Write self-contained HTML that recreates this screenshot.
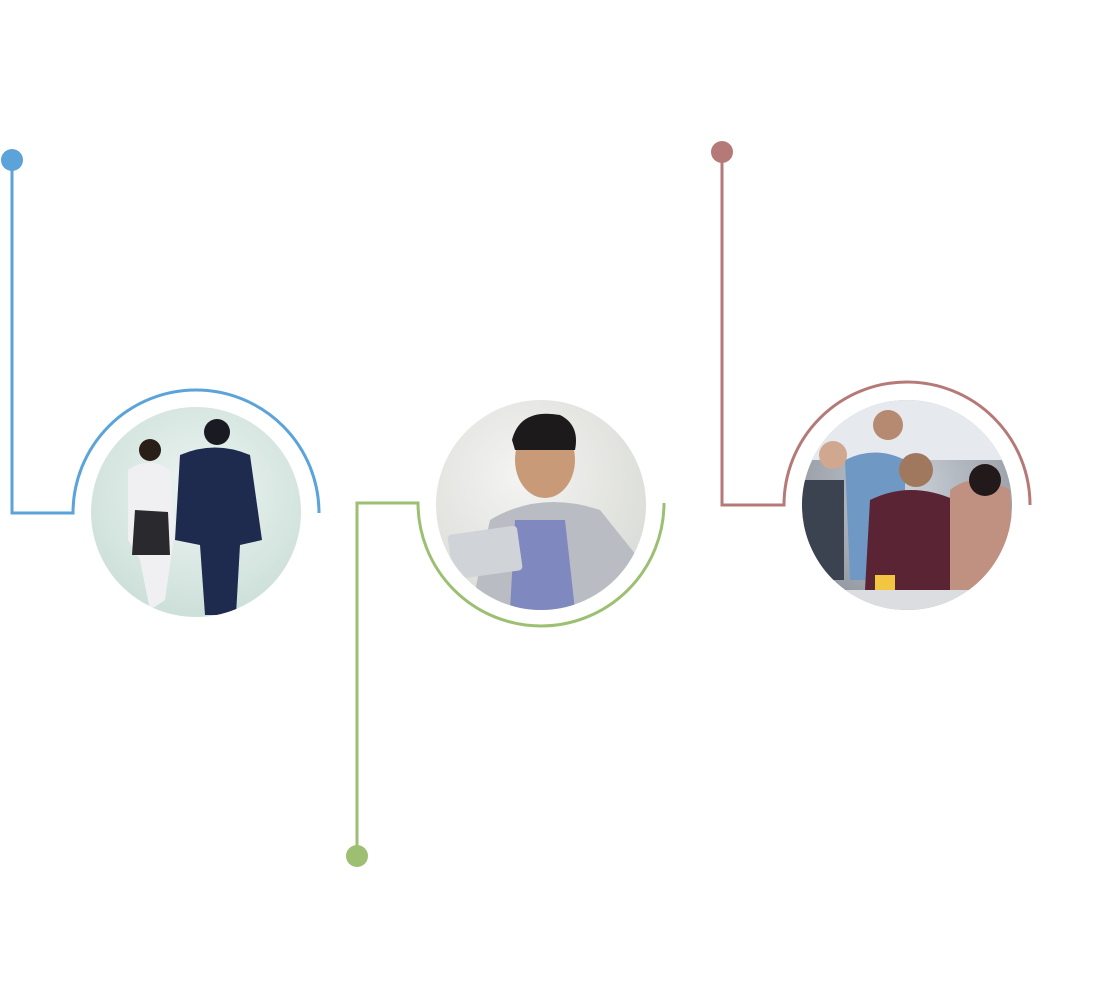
<!DOCTYPE html>
<html><head><meta charset="utf-8"><style>
html,body{margin:0;padding:0;background:#fff;width:1112px;height:1000px;overflow:hidden}
</style></head><body>
<svg width="1112" height="1000" viewBox="0 0 1112 1000" xmlns="http://www.w3.org/2000/svg">
<defs>
<radialGradient id="g1" cx="50%" cy="40%" r="60%"><stop offset="0" stop-color="#eef5f2"/><stop offset="1" stop-color="#c9ddd6"/></radialGradient>
<radialGradient id="g2" cx="40%" cy="35%" r="65%"><stop offset="0" stop-color="#f4f4f2"/><stop offset="1" stop-color="#d9dbd6"/></radialGradient>
<radialGradient id="g3" cx="50%" cy="40%" r="65%"><stop offset="0" stop-color="#c9cfd6"/><stop offset="1" stop-color="#8a8f98"/></radialGradient>
<clipPath id="c1"><circle cx="196" cy="512" r="105"/></clipPath>
<clipPath id="c2"><circle cx="541" cy="505" r="105"/></clipPath>
<clipPath id="c3"><circle cx="907" cy="505" r="105"/></clipPath>
</defs>
<g fill="none" stroke-width="3">
<path d="M12 160 V513 H73 A123 123 0 0 1 319 513" stroke="#5ba3d9"/>
<path d="M357 856 V503 H418 A123 123 0 0 0 664 503" stroke="#9cbf72"/>
<path d="M722 152 V505 H784 A123 123 0 0 1 1030 505" stroke="#b57a78"/>
</g>
<circle cx="12" cy="160" r="11" fill="#5ba3d9"/>
<circle cx="357" cy="856" r="11" fill="#9cbf72"/>
<circle cx="722" cy="152" r="11" fill="#b57a78"/>

<g clip-path="url(#c1)">
<rect x="80" y="400" width="240" height="230" fill="url(#g1)"/>
<path d="M180 455 Q215 440 250 455 L262 540 L240 545 L236 615 L205 615 L200 545 L175 540 Z" fill="#1e2a4e"/>
<circle cx="217" cy="432" r="13" fill="#1a1a22"/>
<path d="M128 470 Q150 455 170 470 L175 530 L165 600 L150 610 L140 560 L128 540 Z" fill="#f0f0f2"/>
<path d="M135 510 L168 512 L170 555 L132 555 Z" fill="#2a2a2e"/>
<circle cx="150" cy="450" r="11" fill="#2a1e18"/>
</g>
<g clip-path="url(#c2)">
<rect x="430" y="395" width="230" height="230" fill="url(#g2)"/>
<path d="M470 615 L490 520 Q540 490 600 510 L640 560 L650 620 Z" fill="#b9bcc2"/>
<path d="M515 520 L565 520 L575 610 L510 610 Z" fill="#8088c0"/>
<ellipse cx="545" cy="460" rx="30" ry="38" fill="#c99a78"/>
<path d="M512 440 Q520 408 560 415 Q580 425 575 450 L515 450 Z" fill="#1c1a1a"/>
<rect x="450" y="530" width="70" height="45" rx="4" fill="#d0d3d8" transform="rotate(-8 485 552)"/>
</g>
<g clip-path="url(#c3)">
<rect x="795" y="395" width="230" height="230" fill="url(#g3)"/>
<rect x="800" y="400" width="220" height="60" fill="#e6e9ee"/>
<path d="M845 460 Q875 445 905 460 L905 580 L850 580 Z" fill="#6f99c4"/>
<circle cx="888" cy="425" r="15" fill="#b58a70"/>
<path d="M870 500 Q910 480 955 500 L960 590 L865 590 Z" fill="#5a2434"/>
<circle cx="916" cy="470" r="17" fill="#a0785e"/>
<path d="M950 490 Q975 470 1010 490 L1015 590 L950 590 Z" fill="#c09080"/>
<circle cx="985" cy="480" r="16" fill="#221a1a"/>
<rect x="802" y="480" width="42" height="100" fill="#3b4250"/>
<circle cx="833" cy="455" r="14" fill="#d0a890"/>
<rect x="875" y="575" width="20" height="25" fill="#f2c640"/>
<rect x="800" y="590" width="220" height="30" fill="#dcdde0"/>
</g>
</svg>
</body></html>
